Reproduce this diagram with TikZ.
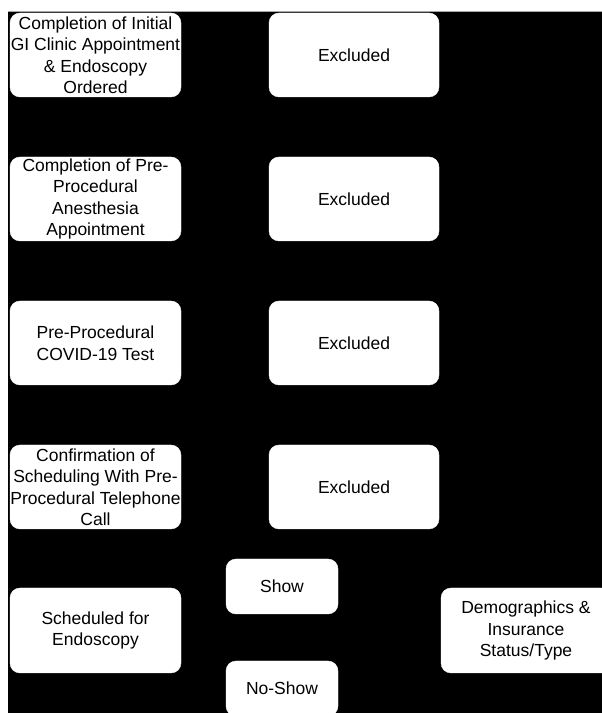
\documentclass[tikz,border=0pt]{standalone}
\usepackage{fontspec}
\setmainfont{Liberation Sans}
\begin{document}
\begin{tikzpicture}[x=1pt,y=1pt,
  box/.style={rounded corners=10pt, fill=white, draw=white, align=center,
    font=\fontsize{17.5}{21.5}\selectfont, inner sep=0pt,
    minimum width=171pt, minimum height=84pt},
  small/.style={box, minimum width=112pt, minimum height=55pt}]
\clip (0,0) rectangle (602,713);
\fill[white] (0,0) rectangle (602,713);
\fill[black] (8,0) rectangle (602,702);
\draw[gray!70, line width=0.8pt] (8,702) -- (602,702);
% left column
\node[box] (init) at (95.5,658) {Completion of Initial\\GI Clinic Appointment\\\& Endoscopy\\Ordered};
\node[box] (anes) at (95.5,514) {Completion of Pre-\\Procedural\\Anesthesia\\Appointment};
\node[box] (covid) at (95.5,370) {Pre-Procedural\\COVID-19 Test};
\node[box] (conf) at (95.5,226) {Confirmation of\\Scheduling With Pre-\\Procedural Telephone\\Call};
\node[box, minimum height=85pt] (sched) at (95.5,82.5) {Scheduled for\\Endoscopy};
% excluded column
\node[box, minimum width=170pt] (ex1) at (354,658) {Excluded};
\node[box, minimum width=170pt] (ex2) at (354,514) {Excluded};
\node[box, minimum width=170pt] (ex3) at (354,370) {Excluded};
\node[box, minimum width=170pt] (ex4) at (354,226) {Excluded};
% outcomes
\node[small] (show) at (282,126.5) {Show};
\node[small] (noshow) at (282,24.5) {No-Show};
\node[box, minimum width=170pt, minimum height=85pt] (demo) at (526,82.5) {Demographics \&\\Insurance\\Status/Type};
\end{tikzpicture}
\end{document}
